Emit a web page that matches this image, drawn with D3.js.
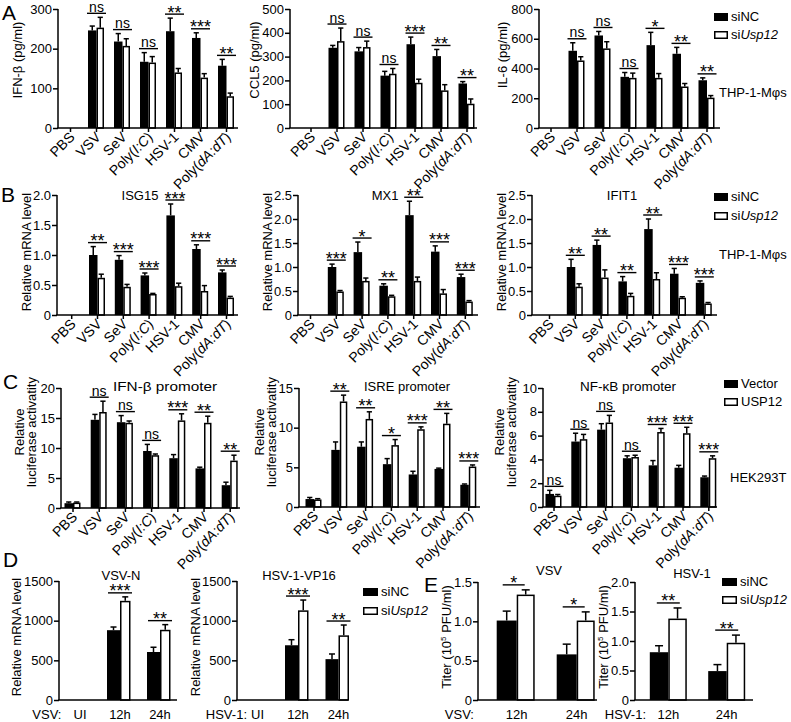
<!DOCTYPE html>
<html><head><meta charset="utf-8">
<script src="https://cdn.jsdelivr.net/npm/d3@7"></script>
<style>
body{margin:0;background:#fff;}
svg text{font-family:"Liberation Sans",Arial,Helvetica,sans-serif;fill:#000;}
</style></head><body>
<svg id="fig" width="791" height="722"></svg>
<script>
// ---------- data ----------
const cats = ["PBS","VSV","SeV","Poly(I:C)","HSV-1","CMV","Poly(dA:dT)"];
const timeD = ["UI","12h","24h"];
const timeE = ["12h","24h"];

// A: cytokines (pg/ml), siNC vs siUsp12
const ifnbNC = [0,246,218,167,244,227,157];
const ifnbNCerr = [0,11,20,23,33,13,16];
const ifnbUsp = [0,253,207,165,140,127,80];
const ifnbUspErr = [0,26,18,15,10,10,8];
const ifnbSig = [null,"ns","ns","ns","**","***","**"];

const ccl5NC = [0,337,322,220,352,302,187];
const ccl5NCerr = [0,10,16,18,30,28,8];
const ccl5Usp = [0,365,340,228,190,158,102];
const ccl5UspErr = [0,55,25,22,15,24,20];
const ccl5Sig = [null,"ns","ns","ns","***","**","**"];

const il6NC = [0,519,622,344,557,499,321];
const il6NCerr = [0,54,27,29,86,43,16];
const il6Usp = [0,454,535,337,337,279,204];
const il6UspErr = [0,25,45,32,29,20,14];
const il6Sig = [null,"ns","ns","ns","*","**","**"];

// B: relative mRNA
const isg15NC = [0,1.0,0.92,0.66,1.66,1.10,0.71];
const isg15NCerr = [0,0.14,0.07,0.04,0.19,0.07,0.04];
const isg15Usp = [0,0.62,0.47,0.35,0.48,0.40,0.29];
const isg15UspErr = [0,0.06,0.04,0.01,0.05,0.09,0.02];
const isg15Sig = [null,"**","***","***","***","***","***"];

const mx1NC = [0,1.0,1.31,0.61,2.08,1.32,0.79];
const mx1NCerr = [0,0.06,0.21,0.04,0.29,0.12,0.06];
const mx1Usp = [0,0.49,0.71,0.39,0.71,0.45,0.28];
const mx1UspErr = [0,0.02,0.06,0.02,0.08,0.08,0.02];
const mx1Sig = [null,"***","*","**","**","***","***"];

const ifit1NC = [0,1.0,1.46,0.70,1.79,0.86,0.67];
const ifit1NCerr = [0,0.16,0.10,0.10,0.21,0.11,0.04];
const ifit1Usp = [0,0.59,0.78,0.40,0.75,0.36,0.24];
const ifit1UspErr = [0,0.06,0.16,0.05,0.13,0.02,0.02];
const ifit1Sig = [null,"**","**","**","**","***","***"];

// C: luciferase, Vector vs USP12
const ifnbPromVec = [0.8,14.7,14.3,9.5,8.3,6.6,3.8];
const ifnbPromVecErr = [0.2,0.9,1.1,1.1,0.6,0.2,0.5];
const ifnbPromUsp = [0.9,16.0,14.2,8.8,14.6,14.2,7.9];
const ifnbPromUspErr = [0.1,1.8,0.3,0.2,1.1,1.1,0.9];
const ifnbPromSig = [null,"ns","ns","ns","***","**","**"];

const isreVec = [1.0,7.2,7.6,5.4,4.1,4.8,2.8];
const isreVecErr = [0.2,1.0,0.6,0.7,0.4,0.1,0.1];
const isreUsp = [0.95,13.3,11.1,7.8,9.8,10.5,5.1];
const isreUspErr = [0.1,0.8,0.9,0.7,0.3,1.3,0.2];
const isreSig = [null,"**","**","*","***","**","***"];

const nfkbVec = [1.1,5.5,6.5,4.1,3.5,3.3,2.5];
const nfkbVecErr = [0.3,0.7,0.5,0.2,0.4,0.2,0.1];
const nfkbUsp = [0.95,5.7,7.1,4.2,6.3,6.2,4.1];
const nfkbUspErr = [0.1,0.4,0.6,0.15,0.3,0.5,0.2];
const nfkbSig = ["ns","ns","ns","ns","***","***","***"];

// D: viral RNA
const vsvnNC = [0,880,605];
const vsvnNCerr = [0,40,60];
const vsvnUsp = [0,1250,885];
const vsvnUspErr = [0,50,65];
const vsvnSig = [null,"***","**"];

const vp16NC = [0,690,515];
const vp16NCerr = [0,70,65];
const vp16Usp = [0,1130,815];
const vp16UspErr = [0,130,130];
const vp16Sig = [null,"***","**"];

// E: titers (10^5 PFU/ml)
const vsvTiterNC = [1.01,0.58];
const vsvTiterNCerr = [0.12,0.13];
const vsvTiterUsp = [1.34,1.01];
const vsvTiterUspErr = [0.06,0.11];
const vsvTiterSig = ["*","*"];

const hsvTiterNC = [0.81,0.49];
const hsvTiterNCerr = [0.11,0.11];
const hsvTiterUsp = [1.38,0.97];
const hsvTiterUspErr = [0.18,0.13];
const hsvTiterSig = ["**","**"];

const ticksA1 = [0,100,200,300], ticksA2 = [0,100,200,300,400,500], ticksA3 = [0,200,400,600,800];
const ticksB1 = [0,0.5,1.0,1.5,2.0], ticksB2 = [0,0.5,1.0,1.5,2.0,2.5];
const ticksC1 = [0,5,10,15,20], ticksC2 = [0,5,10,15], ticksC3 = [0,2,4,6,8,10];
const ticksD = [0,500,1000,1500];
const ticksE1 = [0,0.5,1.0,1.5], ticksE2 = [0,0.5,1.0,1.5,2.0];

// ---------- drawing ----------
const svg = d3.select("#fig");
const FS = 13;
const fmt1 = d => d === 0 ? "0" : d3.format(".1f")(d);
const fmt0 = d => String(d);

function catLabel(sel, c){
  const m = c.match(/^(Poly\()(.*)(\))$/);
  if(m){
    sel.append("tspan").text(m[1]);
    sel.append("tspan").attr("font-style","italic").text(m[2]);
    sel.append("tspan").text(m[3]);
  } else sel.text(c);
}

function chart(cfg){
  const g = svg.append("g");
  const n = cfg.cats.length;
  const r0 = cfg.c0 - cfg.step/2;
  const x = d3.scaleBand().domain(cfg.cats).range([r0, r0 + n*cfg.step]).padding(0);
  const y = d3.scaleLinear().domain([0, cfg.yMax]).range([cfg.yBot, cfg.yTop]);
  const cx = c => x(c) + x.bandwidth()/2;
  const rows = cfg.cats.map((c,i)=>({c, a:cfg.a[i], ae:cfg.ae[i], b:cfg.b[i], be:cfg.be[i], s:cfg.sig[i]}));
  const wA = cfg.wA, wB = cfg.wB, cap = cfg.cap || 2.6;

  g.selectAll(".ba").data(rows.filter(d=>d.a>0)).join("rect")
    .attr("x", d=>cx(d.c)-wA).attr("width", wA)
    .attr("y", d=>y(d.a)).attr("height", d=>cfg.yBot - y(d.a))
    .attr("fill","#000");
  const eb = g.selectAll(".ea").data(rows.filter(d=>d.a>0)).join("g");
  eb.append("line").attr("x1",d=>cx(d.c)-wA/2).attr("x2",d=>cx(d.c)-wA/2)
    .attr("y1",d=>y(d.a)).attr("y2",d=>y(d.a+d.ae)).attr("stroke","#000").attr("stroke-width",1.5);
  eb.append("line").attr("x1",d=>cx(d.c)-wA/2-cap).attr("x2",d=>cx(d.c)-wA/2+cap)
    .attr("y1",d=>y(d.a+d.ae)).attr("y2",d=>y(d.a+d.ae)).attr("stroke","#000").attr("stroke-width",1.5);
  g.selectAll(".bb").data(rows.filter(d=>d.b>0)).join("rect")
    .attr("x", d=>cx(d.c)+0.75).attr("width", wB-1.5)
    .attr("y", d=>y(d.b)+0.75).attr("height", d=>cfg.yBot - y(d.b)-0.75)
    .attr("fill","#fff").attr("stroke","#000").attr("stroke-width",1.5);
  const ew = g.selectAll(".eb").data(rows.filter(d=>d.b>0)).join("g");
  ew.append("line").attr("x1",d=>cx(d.c)+wB/2).attr("x2",d=>cx(d.c)+wB/2)
    .attr("y1",d=>y(d.b)).attr("y2",d=>y(d.b+d.be)).attr("stroke","#000").attr("stroke-width",1.5);
  ew.append("line").attr("x1",d=>cx(d.c)+wB/2-cap).attr("x2",d=>cx(d.c)+wB/2+cap)
    .attr("y1",d=>y(d.b+d.be)).attr("y2",d=>y(d.b+d.be)).attr("stroke","#000").attr("stroke-width",1.5);

  // significance
  const sg = g.selectAll(".sg").data(rows.filter(d=>d.s)).join("g");
  const ly = d => Math.min(y(d.a+d.ae), y(d.b+d.be)) - (cfg.sigGap || 4);
  sg.append("line").attr("x1",d=>cx(d.c)+(cfg.sigOff||0)-cfg.half).attr("x2",d=>cx(d.c)+(cfg.sigOff||0)+cfg.half)
    .attr("y1",ly).attr("y2",ly).attr("stroke","#000").attr("stroke-width",1.4);
  sg.append("text").attr("x",d=>cx(d.c)+(cfg.sigOff||0))
    .attr("y",d=> d.s==="ns" ? ly(d)-1.5 : ly(d)+4.5)
    .attr("text-anchor","middle")
    .attr("font-size",d=> d.s==="ns" ? 14 : 18)
    .text(d=>d.s);

  // y axis
  const ya = g.append("g").attr("transform",`translate(${cfg.axisX},0)`)
    .call(d3.axisLeft(y).tickValues(cfg.ticks).tickFormat(cfg.fmt).tickSize(5).tickSizeOuter(0));
  ya.select(".domain").attr("stroke-width",1.5).attr("d",`M0,${cfg.yBot}V${cfg.yTop}`);
  ya.selectAll(".tick line").attr("stroke-width",1.5);
  ya.selectAll(".tick text").attr("font-size",FS).attr("font-family","Liberation Sans, Arial, sans-serif").attr("fill","#000").attr("x",-6);

  // x axis
  g.append("line").attr("x1",cfg.axisX-0.75).attr("x2",cfg.axisEnd).attr("y1",cfg.yBot).attr("y2",cfg.yBot)
    .attr("stroke","#000").attr("stroke-width",1.5);
  if(cfg.rot){
    const xa = g.append("g").attr("transform",`translate(0,${cfg.yBot})`)
      .call(d3.axisBottom(x).tickSize(4).tickSizeOuter(0).tickFormat(""));
    xa.select(".domain").remove();
    xa.selectAll(".tick line").attr("stroke-width",1.5);
    cfg.cats.forEach(c=>{
      const t = g.append("text").attr("text-anchor","end").attr("font-size",14)
        .attr("transform",`translate(${cx(c)+cfg.lx},${cfg.yBot+cfg.ly}) rotate(-45)`);
      catLabel(t,c);
    });
  } else {
    g.selectAll(".xl").data(cfg.cats).join("text").attr("x",d=>cx(d)).attr("y",cfg.labY)
      .attr("text-anchor","middle").attr("font-size",FS).text(d=>d);
    g.append("text").attr("x",cfg.preX).attr("y",cfg.labY).attr("text-anchor","end").attr("font-size",FS).text(cfg.prefix);
  }

  if(cfg.ylab){
    const lines = [].concat(cfg.ylab);
    lines.forEach((L,i)=>{
      const t = g.append("text").attr("text-anchor","middle").attr("font-size",FS)
        .attr("transform",`translate(${cfg.ylabX[i]},${cfg.ylabY}) rotate(-90)`);
      if(typeof L === "function") L(t); else t.text(L);
    });
  }
  if(cfg.title){
    const tt = g.append("text").attr("x",cfg.title[1]).attr("y",cfg.title[2]).attr("text-anchor","middle")
      .attr("font-size",FS).text(cfg.title[0]);
    if(cfg.title[3]) tt.attr("textLength",cfg.title[3]).attr("lengthAdjust","spacingAndGlyphs");
  }
}

const base = {cats, wA:8.5, wB:7.5, half:9.5, rot:true, lx:5, ly:10};

// Row A
chart({...base, a:ifnbNC, ae:ifnbNCerr, b:ifnbUsp, be:ifnbUspErr, sig:ifnbSig, yMax:300, ticks:ticksA1, fmt:fmt0,
  axisX:58, axisEnd:238, yTop:9, yBot:128, c0:70.5, step:26, ylab:"IFN-β (pg/ml)", ylabX:[22], ylabY:60});
chart({...base, a:ccl5NC, ae:ccl5NCerr, b:ccl5Usp, be:ccl5UspErr, sig:ccl5Sig, yMax:500, ticks:ticksA2, fmt:fmt0,
  axisX:290, axisEnd:477, yTop:9, yBot:128, c0:311, step:26, ylab:"CCL5 (pg/ml)", ylabX:[259], ylabY:60});
chart({...base, a:il6NC, ae:il6NCerr, b:il6Usp, be:il6UspErr, sig:il6Sig, yMax:800, ticks:ticksA3, fmt:fmt0,
  axisX:539, axisEnd:720, yTop:9, yBot:128, c0:551, step:26, ylab:"IL-6 (pg/ml)", ylabX:[507], ylabY:55});

// Row B
chart({...base, a:isg15NC, ae:isg15NCerr, b:isg15Usp, be:isg15UspErr, sig:isg15Sig, yMax:2.0, ticks:ticksB1, fmt:fmt1,
  axisX:57, axisEnd:238, yTop:195, yBot:315, c0:71.7, step:25.8, ylab:"Relative mRNA level", ylabX:[31], ylabY:252, title:["ISG15",140,200]});
chart({...base, a:mx1NC, ae:mx1NCerr, b:mx1Usp, be:mx1UspErr, sig:mx1Sig, yMax:2.5, ticks:ticksB2, fmt:fmt1,
  axisX:298, axisEnd:478, yTop:195, yBot:315, c0:310.5, step:25.8, ylab:"Relative mRNA level", ylabX:[272], ylabY:252, title:["MX1",385,200]});
chart({...base, a:ifit1NC, ae:ifit1NCerr, b:ifit1Usp, be:ifit1UspErr, sig:ifit1Sig, yMax:2.5, ticks:ticksB2, fmt:fmt1,
  axisX:532, axisEnd:717, yTop:195, yBot:315, c0:549.5, step:25.8, ylab:"Relative mRNA level", ylabX:[506], ylabY:252, title:["IFIT1",622,200]});

// Row C
const lucLab = ["Relative","luciferase activatity"];
chart({...base, a:ifnbPromVec, ae:ifnbPromVecErr, b:ifnbPromUsp, be:ifnbPromUspErr, sig:ifnbPromSig, yMax:20, ticks:ticksC1, fmt:fmt0,
  axisX:61, axisEnd:240, yTop:388, yBot:508, c0:73, step:26.2, ylab:lucLab, ylabX:[24,36], ylabY:432, title:["IFN-β promoter",165,391,104]});
chart({...base, a:isreVec, ae:isreVecErr, b:isreUsp, be:isreUspErr, sig:isreSig, yMax:15, ticks:ticksC2, fmt:fmt0,
  axisX:299, axisEnd:480, yTop:388, yBot:507, c0:314, step:25.8, ylab:lucLab, ylabX:[264,276], ylabY:432, title:["ISRE promoter",407,391]});
chart({...base, a:nfkbVec, ae:nfkbVecErr, b:nfkbUsp, be:nfkbUspErr, sig:nfkbSig, yMax:10, ticks:ticksC3, fmt:fmt0,
  axisX:543, axisEnd:717, yTop:388, yBot:507, c0:554, step:25.8, ylab:lucLab, ylabX:[504,516], ylabY:432, title:["NF-κB promoter",628,391,96]});

// Row D
chart({cats:timeD, wA:13, wB:10.5, half:12, rot:false, a:vsvnNC, ae:vsvnNCerr, b:vsvnUsp, be:vsvnUspErr, sig:vsvnSig, yMax:1500, ticks:ticksD, fmt:fmt0,
  axisX:59, axisEnd:177, yTop:581, yBot:700, c0:80, step:40, ylab:"Relative mRNA level", ylabX:[21], ylabY:637,
  title:["VSV-N",121,580], labY:719.2, prefix:"VSV:", preX:61.5, cap:3});
chart({cats:timeD, wA:13, wB:10.5, half:12, rot:false, a:vp16NC, ae:vp16NCerr, b:vp16Usp, be:vp16UspErr, sig:vp16Sig, yMax:1500, ticks:ticksD, fmt:fmt0,
  axisX:237, axisEnd:348, yTop:581, yBot:700, c0:257.5, step:40.5, ylab:"Relative mRNA level", ylabX:[200], ylabY:637,
  title:["HSV-1-VP16",299,580], labY:719.2, prefix:"HSV-1:", preX:247, cap:3});

// Row E
const titerLab = t => { t.append("tspan").text("Titer (10"); t.append("tspan").attr("font-size",8).attr("dy",-5).text("5");
  t.append("tspan").attr("dy",5).text(" PFU/ml)"); };
chart({cats:timeE, wA:20, wB:18, half:11, rot:false, a:vsvTiterNC, ae:vsvTiterNCerr, b:vsvTiterUsp, be:vsvTiterUspErr, sig:vsvTiterSig, yMax:1.5, ticks:ticksE1, fmt:fmt1,
  axisX:478, axisEnd:597, yTop:582, yBot:700, c0:516.7, step:60, ylab:[titerLab], ylabX:[451], ylabY:637,
  title:["VSV",549,575], labY:719.2, prefix:"VSV:", preX:474, cap:4, sigGap:5, sigOff:-3});
chart({cats:timeE, wA:18.5, wB:18.5, half:11.5, rot:false, a:hsvTiterNC, ae:hsvTiterNCerr, b:hsvTiterUsp, be:hsvTiterUspErr, sig:hsvTiterSig, yMax:2.0, ticks:ticksE2, fmt:fmt1,
  axisX:635, axisEnd:753, yTop:582, yBot:700, c0:668.3, step:58.4, ylab:[titerLab], ylabX:[608], ylabY:637,
  title:["HSV-1",692,578], labY:719.2, prefix:"HSV-1:", preX:646, cap:4, sigGap:5});

// ---------- legends & annotations ----------
function legend(x, y1, y2, w, names){
  svg.append("rect").attr("x",x).attr("y",y1).attr("width",w).attr("height",8).attr("fill","#000");
  svg.append("rect").attr("x",x+0.75).attr("y",y2+0.75).attr("width",w-1.5).attr("height",6.5).attr("fill","#fff").attr("stroke","#000").attr("stroke-width",1.5);
  const t1 = svg.append("text").attr("x",x+w+3).attr("y",y1+8).attr("font-size",FS);
  names[0](t1);
  const t2 = svg.append("text").attr("x",x+w+3).attr("y",y2+8).attr("font-size",FS);
  names[1](t2);
}
const siNC = t => t.text("siNC");
const siUsp = t => { t.append("tspan").text("si"); t.append("tspan").attr("font-style","italic").text("Usp12"); };
legend(714,13,31,14,[siNC,siUsp]);
legend(714,193,212,14,[siNC,siUsp]);
legend(724,380,398,14,[t=>t.text("Vector"), t=>t.text("USP12")]);
legend(363,588,607,15,[siNC,siUsp]);
legend(722,578,596,15,[siNC,siUsp]);

const note = (x,y,s) => svg.append("text").attr("x",x).attr("y",y).attr("font-size",FS).text(s);
note(719,97,"THP-1-Mφs");
note(719,259,"THP-1-Mφs");
note(730,482,"HEK293T");

const letter = (x,y,s) => svg.append("text").attr("x",x).attr("y",y).attr("font-size",21).text(s);
letter(2,20,"A"); letter(1,202,"B"); letter(3,389,"C"); letter(3,567,"D"); letter(424,592,"E");
</script>
</body></html>
